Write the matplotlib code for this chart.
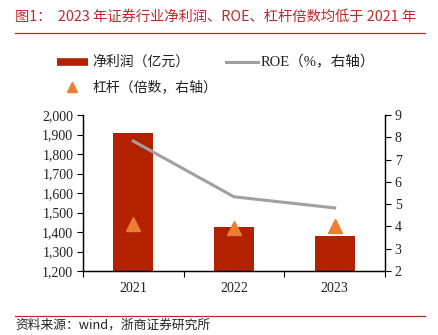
import matplotlib
matplotlib.use("Agg")
import matplotlib.pyplot as plt
from matplotlib.lines import Line2D
from matplotlib.ticker import FuncFormatter, FixedLocator

years = ["2021", "2022", "2023"]
net_profit = [1910, 1425, 1380]
roe = [7.83, 5.33, 4.83]
leverage = [4.1, 3.95, 4.0]

CJK = ["Noto Sans CJK SC", "DejaVu Sans"]
SERIF = ["Liberation Serif", "Noto Sans CJK SC"]
RED = "#C0282D"

fig = plt.figure(figsize=(4.38, 3.35), dpi=100)
ax = fig.add_axes([83/438, (335-271)/335, (385-83)/438, (271-115)/335])
ax2 = ax.twinx()

x = list(range(len(years)))
ax.bar(x, net_profit, width=0.4, color="#B22200", zorder=2)
ax.set_ylim(1200, 2000)
ax.set_yticks(range(1200, 2001, 100))
ax.yaxis.set_major_formatter(FuncFormatter(lambda v, p: f"{int(v):,}"))
ax.set_xlim(-0.5, 2.5)
ax.set_xticks(x)
ax.set_xticklabels(years)
ax.xaxis.set_minor_locator(FixedLocator([-0.5, 0.5, 1.5, 2.5]))
ax.tick_params(axis="x", which="major", length=0, pad=8)
ax.tick_params(axis="x", which="minor", length=4, width=0.8, direction="out")
ax.tick_params(axis="y", length=4, width=0.8, direction="out", pad=3)

ax2.plot(x, roe, color="#A0A0A0", lw=2.2, zorder=3)
ax2.plot(x, leverage, linestyle="none", marker="^", markersize=10,
         color="#ED7D31", zorder=4)
ax2.set_ylim(2, 9)
ax2.set_yticks(range(2, 10))
ax2.tick_params(axis="y", length=4, width=0.8, direction="out", pad=3)

for a in (ax, ax2):
    a.spines["top"].set_visible(False)
    for s in ("left", "right", "bottom"):
        a.spines[s].set_linewidth(0.9)
    for lab in a.get_xticklabels() + a.get_yticklabels():
        lab.set_fontfamily(SERIF)
        lab.set_fontsize(10)
        lab.set_color("#222222")

# Title and rules
fig.text(15/438, 1 - 17/335, "图1：  2023 年证券行业净利润、ROE、杠杆倍数均低于 2021 年",
         fontsize=10.3, color=RED, family=CJK, va="center")
fig.add_artist(Line2D([15/438, 425/438], [1 - 33/335, 1 - 33/335], color=RED, lw=0.9))
fig.add_artist(Line2D([15/438, 425/438], [1 - 316/335, 1 - 316/335], color=RED, lw=0.9))
fig.text(15/438, 1 - 325/335, "资料来源：wind，浙商证券研究所", fontsize=9.2,
         color="#222222", family=CJK, va="center")

# Legend (manual)
fig.add_artist(Line2D([57/438, 88/438], [1 - 62/335, 1 - 62/335],
                      color="#B22200", lw=5.5, solid_capstyle="butt"))
fig.text(92/438, 1 - 62/335, "净利润（亿元）", fontsize=10, family=CJK, va="center", color="#222222")
fig.add_artist(Line2D([226/438, 258/438], [1 - 62/335, 1 - 62/335], color="#A0A0A0", lw=2.2))
fig.text(261/438, 1 - 62/335, "ROE（%，右轴）", fontsize=10.5, family=SERIF,
         va="center", color="#222222")
fig.add_artist(Line2D([72/438], [1 - 87/335], marker="^", markersize=6.5, color="#ED7D31", linestyle="none"))
fig.text(92/438, 1 - 87/335, "杠杆（倍数，右轴）", fontsize=10, family=CJK, va="center", color="#222222")

fig.savefig("out.png", dpi=100)
